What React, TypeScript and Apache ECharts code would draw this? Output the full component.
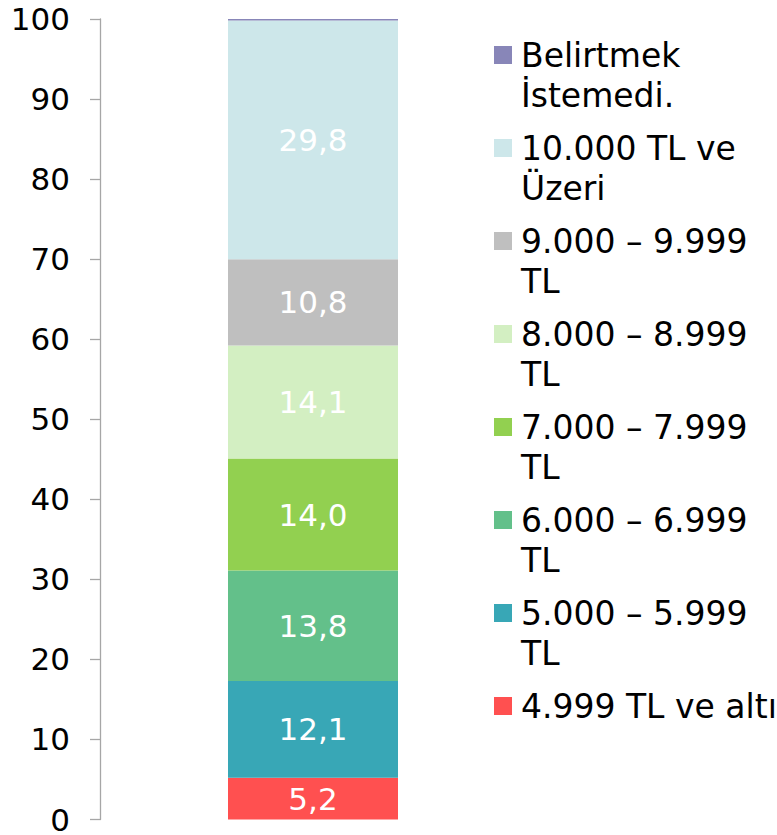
import React, { useEffect, useRef } from "react";
import * as echarts from "echarts";

const categories = ["Gelir"];
const seriesNames = [
  "4.999 TL ve altı",
  "5.000 – 5.999 TL",
  "6.000 – 6.999 TL",
  "7.000 – 7.999 TL",
  "8.000 – 8.999 TL",
  "9.000 – 9.999 TL",
  "10.000 TL ve Üzeri",
  "Belirtmek İstemedi.",
];
const legendLines = [
  ["4.999 TL ve altı"],
  ["5.000 – 5.999", "TL"],
  ["6.000 – 6.999", "TL"],
  ["7.000 – 7.999", "TL"],
  ["8.000 – 8.999", "TL"],
  ["9.000 – 9.999", "TL"],
  ["10.000 TL ve", "Üzeri"],
  ["Belirtmek", "İstemedi."],
];
const values = [5.2, 12.1, 13.8, 14.0, 14.1, 10.8, 29.8, 0.2];
const colors = [
  "#FF5050",
  "#38A7B6",
  "#63C08A",
  "#92D050",
  "#D3EFC2",
  "#BFBFBF",
  "#CDE7EA",
  "#8886B8",
];
const yTicks = [0, 100, 10];

const FONT = "'DejaVu Sans', Verdana, sans-serif";

export default function App() {
  const ref = useRef<HTMLDivElement>(null);
  useEffect(() => {
    if (!ref.current) return;
    const chart = echarts.init(ref.current, null, { renderer: "svg" });
    const series = seriesNames.map((name, i) => ({
      name,
      type: "bar",
      stack: "total",
      barWidth: 170,
      data: [values[i]],
      itemStyle: { color: colors[i] },
      label: {
        show: i < seriesNames.length - 1,
        position: "inside",
        color: "#FFFFFF",
        fontFamily: FONT,
        fontSize: 31,
        formatter: (p: any) => Number(p.value).toFixed(1).replace(".", ","),
      },
    }));
    const legendGraphics: any[] = [];
    const order = seriesNames.map((_, i) => seriesNames.length - 1 - i);
    order.forEach((idx, k) => {
      const cy = 55 + k * 93;
      legendGraphics.push({
        type: "rect",
        shape: { x: 494, y: cy - 9, width: 18, height: 18 },
        style: { fill: colors[idx] },
      });
      legendGraphics.push({
        type: "text",
        x: 521,
        y: cy - 20,
        style: {
          text: legendLines[idx].join("\n"),
          fill: "#000000",
          font: `33px ${FONT}`,
          fontFamily: FONT,
          fontSize: 33,
          lineHeight: 40,
          verticalAlign: "top",
          align: "left",
        },
      });
    });
    chart.setOption({
      animation: false,
      grid: { left: 100, right: 251, top: 19, bottom: 12.5 },
      xAxis: {
        type: "category",
        data: categories,
        show: false,
      },
      yAxis: {
        type: "value",
        min: yTicks[0],
        max: yTicks[1],
        interval: yTicks[2],
        axisLine: { show: true, lineStyle: { color: "#A6A6A6", width: 1.3 } },
        axisTick: { show: true, length: 10, lineStyle: { color: "#A6A6A6", width: 1.3 } },
        splitLine: { show: false },
        axisLabel: {
          margin: 30,
          color: "#000000",
          fontFamily: FONT,
          fontSize: 31,
          lineHeight: 24,
        },
      },
      series,
      graphic: legendGraphics,
    });
    return () => chart.dispose();
  }, []);
  return (
    <div
      ref={ref}
      style={{ position: "absolute", left: 0, top: 0, width: 777, height: 835, background: "#fff" }}
    />
  );
}
